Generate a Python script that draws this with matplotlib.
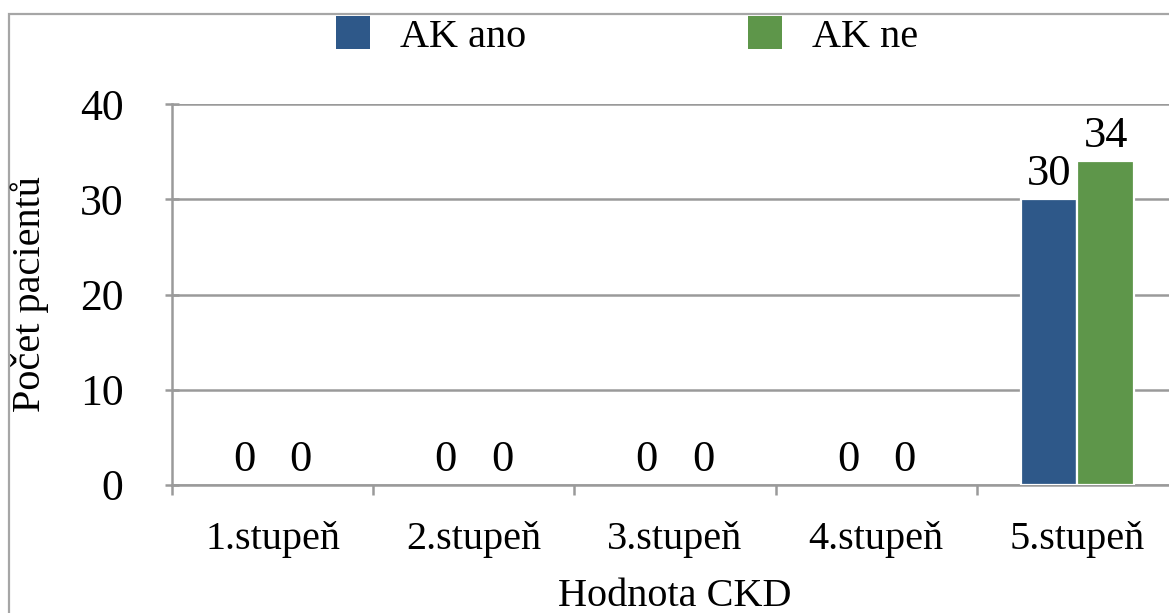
import matplotlib
matplotlib.use("Agg")
import matplotlib.pyplot as plt
from matplotlib.patches import Rectangle
import numpy as np

categories = ["1.stupeň", "2.stupeň", "3.stupeň", "4.stupeň", "5.stupeň"]
ak_ano = [0, 0, 0, 0, 30]
ak_ne = [0, 0, 0, 0, 34]
series_names = ["AK ano", "AK ne"]
colors = ["#2E5889", "#5E964A"]
yticks = [0, 10, 20, 30, 40]

plt.rcParams["font.family"] = ["Liberation Serif", "DejaVu Serif"]

fig = plt.figure(figsize=(11.69, 6.13), dpi=100)
ax = fig.add_axes([172 / 1169, 1 - 485 / 613, (1178 - 172) / 1169, (485 - 104) / 613])

# outer chart frame (continues past the right and bottom edges)
fig.patches.append(Rectangle((9 / 1169, -0.05), 1.2, 1 - 14 / 613 + 0.05,
                             transform=fig.transFigure, fill=False,
                             edgecolor="#a6a6a6", linewidth=1.6, zorder=0))

x = np.arange(len(categories))
w = 0.28
grid_c = "#9a9a9a"


def edge_widths(vals):
    # no white outline on empty bars so the axis line stays intact
    return [1.6 if v > 0 else 0 for v in vals]


b1 = ax.bar(x - w / 2, ak_ano, w, color=colors[0], edgecolor="white",
            linewidth=edge_widths(ak_ano), zorder=3, label=series_names[0])
b2 = ax.bar(x + w / 2, ak_ne, w, color=colors[1], edgecolor="white",
            linewidth=edge_widths(ak_ne), zorder=3, label=series_names[1])

for bars, vals in ((b1, ak_ano), (b2, ak_ne)):
    for rect, v in zip(bars, vals):
        ax.annotate(f"{v}", (rect.get_x() + rect.get_width() / 2, v),
                    xytext=(0, 10), textcoords="offset points",
                    ha="center", va="baseline", fontsize=32, zorder=4)

ax.set_xlim(-0.5, len(categories) - 0.5)
ax.set_ylim(0, 40)
ax.set_yticks(yticks)
ax.yaxis.grid(True, color=grid_c, linewidth=1.8, zorder=0)
ax.set_axisbelow(True)

ax.set_xticks(x)
ax.set_xticklabels(categories, fontsize=29)
ax.set_xticks(np.arange(-0.5, len(categories)), minor=True)
ax.tick_params(axis="x", which="major", length=0, pad=26)
ax.tick_params(axis="x", which="minor", length=7, width=1.8, color=grid_c, direction="out")
ax.tick_params(axis="y", labelsize=31.5, length=10, width=1.8, color=grid_c,
               direction="inout", pad=30)

for s in ("top", "right"):
    ax.spines[s].set_visible(False)
for s in ("left", "bottom"):
    ax.spines[s].set_color(grid_c)
    ax.spines[s].set_linewidth(1.8)

ax.set_xlabel("Hodnota CKD", fontsize=29, labelpad=14)
fig.text(30 / 1169, 1 - 294 / 613, "Počet pacientů", rotation=90, fontsize=29,
         ha="center", va="center")

fig.legend(handles=[b1, b2], labels=series_names, loc="center",
           bbox_to_anchor=(627 / 1169, 1 - 36 / 613), ncol=2, frameon=False,
           fontsize=29, handlelength=0.85, handleheight=0.85, handletextpad=0.75,
           columnspacing=5.5, borderpad=0)

fig.savefig("out.png", dpi=100)
